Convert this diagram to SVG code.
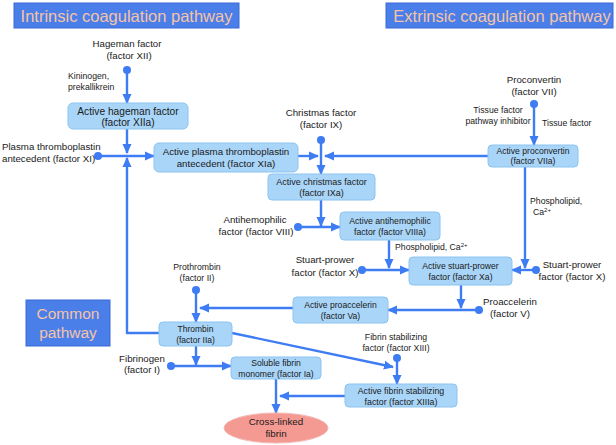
<svg xmlns="http://www.w3.org/2000/svg" width="616" height="445" viewBox="0 0 616 445">
<style>
text{font-family:"Liberation Sans",Arial,sans-serif;fill:#1a1a1a}
.title rect{fill:#4a7ee9;stroke:#3a6ad6;stroke-width:1}
.title text{fill:#f5c4a6;text-anchor:middle}
.node rect{fill:#a9d5f8;stroke:#8cc4f1;stroke-width:1}
.node text{text-anchor:middle}
.lbl{font-size:9.7px}
.sm{font-size:8.7px}
.mid{text-anchor:middle}
.c{fill:none;stroke:#3e7cf4;stroke-width:2.4}
.dot{fill:#3e7cf4}
</style>
<defs>
<marker id="ah" markerUnits="userSpaceOnUse" markerWidth="10" markerHeight="10" viewBox="0 0 10 10" refX="9" refY="5" orient="auto">
<path d="M0,0.5 L10,5 L0,9.5 Z" fill="#3e7cf4"/>
</marker>
</defs>
<rect width="616" height="445" fill="#ffffff"/>

<g id="title-intrinsic" class="title"><rect x="14" y="3" width="225" height="25"/><text x="126.5" y="22" font-size="16.5">Intrinsic coagulation pathway</text></g>
<g id="title-extrinsic" class="title"><rect x="386" y="3" width="227" height="25"/><text x="502" y="22" font-size="16.5">Extrinsic coagulation pathway</text></g>
<g id="title-common" class="title"><rect x="26" y="300" width="84" height="46"/><text x="68" y="319" font-size="15.5">Common</text><text x="68" y="338" font-size="15.5">pathway</text></g>

<g id="connectors">
<line class="c" x1="127" y1="70" x2="127" y2="103" marker-end="url(#ah)"/>
<line class="c" x1="127" y1="129" x2="127" y2="153" marker-end="url(#ah)"/>
<line class="c" x1="98" y1="156" x2="154" y2="156" marker-end="url(#ah)"/>
<polyline class="c" points="159,333 127,333 127,158" marker-end="url(#ah)"/>
<line class="c" x1="298" y1="156" x2="318" y2="156" marker-end="url(#ah)"/>
<line class="c" x1="321" y1="140" x2="321" y2="174" marker-end="url(#ah)"/>
<line class="c" x1="488" y1="156" x2="325" y2="156" marker-end="url(#ah)"/>
<line class="c" x1="534" y1="104" x2="534" y2="145" marker-end="url(#ah)"/>
<line class="c" x1="321" y1="200" x2="321" y2="226" marker-end="url(#ah)"/>
<line class="c" x1="298" y1="227" x2="340" y2="227" marker-end="url(#ah)"/>
<line class="c" x1="389" y1="240" x2="389" y2="268" marker-end="url(#ah)"/>
<line class="c" x1="362" y1="270" x2="409" y2="270" marker-end="url(#ah)"/>
<line class="c" x1="525" y1="167" x2="525" y2="268" marker-end="url(#ah)"/>
<line class="c" x1="536" y1="270" x2="512" y2="270" marker-end="url(#ah)"/>
<line class="c" x1="461" y1="285" x2="461" y2="308" marker-end="url(#ah)"/>
<line class="c" x1="479" y1="310" x2="388" y2="310" marker-end="url(#ah)"/>
<line class="c" x1="293" y1="308" x2="200" y2="308" marker-end="url(#ah)"/>
<line class="c" x1="196" y1="290" x2="196" y2="322" marker-end="url(#ah)"/>
<line class="c" x1="196" y1="346" x2="196" y2="365" marker-end="url(#ah)"/>
<line class="c" x1="171" y1="366" x2="231" y2="366" marker-end="url(#ah)"/>
<line class="c" x1="232" y1="333" x2="393" y2="367" marker-end="url(#ah)"/>
<line class="c" x1="397" y1="358" x2="397" y2="384" marker-end="url(#ah)"/>
<line class="c" x1="345" y1="396" x2="280" y2="396" marker-end="url(#ah)"/>
<line class="c" x1="276" y1="379" x2="276" y2="413" marker-end="url(#ah)"/>
<circle class="dot" cx="127" cy="70" r="4"/>
<circle class="dot" cx="98" cy="156" r="4"/>
<circle class="dot" cx="321" cy="140" r="4"/>
<circle class="dot" cx="534" cy="104" r="4"/>
<circle class="dot" cx="298" cy="227" r="4"/>
<circle class="dot" cx="362" cy="270" r="4"/>
<circle class="dot" cx="536" cy="270" r="4"/>
<circle class="dot" cx="479" cy="310" r="4"/>
<circle class="dot" cx="196" cy="290" r="4"/>
<circle class="dot" cx="171" cy="366" r="4"/>
<circle class="dot" cx="397" cy="358" r="4"/>
</g>

<g id="n-xiia" class="node"><rect x="68" y="103" width="120" height="26" rx="5"/><text x="128" y="115" font-size="10.2">Active hageman factor</text><text x="128" y="126" font-size="10.2">(factor XIIa)</text></g>
<g id="n-xia" class="node"><rect x="154" y="143" width="144" height="29" rx="5"/><text x="226" y="155" font-size="9.7">Active plasma thromboplastin</text><text x="226" y="167" font-size="9.7">antecedent (factor XIa)</text></g>
<g id="n-ixa" class="node"><rect x="268" y="174" width="107" height="26" rx="4"/><text x="321.5" y="185" font-size="9">Active christmas factor</text><text x="321.5" y="196" font-size="9">(factor IXa)</text></g>
<g id="n-viia" class="node"><rect x="488" y="145" width="90" height="22" rx="4"/><text x="533" y="154" font-size="8.6">Active proconvertin</text><text x="533" y="164" font-size="8.6">(factor VIIa)</text></g>
<g id="n-viiia" class="node"><rect x="340" y="212" width="100" height="28" rx="4"/><text x="390" y="224" font-size="8.7">Active antihemophilic</text><text x="390" y="235" font-size="8.7">factor (factor VIIIa)</text></g>
<g id="n-xa" class="node"><rect x="409" y="257" width="103" height="28" rx="4"/><text x="460.5" y="269" font-size="8.6">Active stuart-prower</text><text x="460.5" y="280" font-size="8.6">factor (factor Xa)</text></g>
<g id="n-va" class="node"><rect x="293" y="297" width="95" height="26" rx="4"/><text x="340.5" y="308" font-size="8.6">Active proaccelerin</text><text x="340.5" y="319" font-size="8.6">(factor Va)</text></g>
<g id="n-iia" class="node"><rect x="159" y="322" width="73" height="24" rx="4"/><text x="195.5" y="332" font-size="8.5">Thrombin</text><text x="195.5" y="343" font-size="8.5">(factor IIa)</text></g>
<g id="n-ia" class="node"><rect x="231" y="357" width="90" height="22" rx="4"/><text x="276" y="366" font-size="8.6">Soluble fibrin</text><text x="276" y="377" font-size="8.6">monomer (factor Ia)</text></g>
<g id="n-xiiia" class="node"><rect x="345" y="384" width="112" height="23" rx="4"/><text x="401" y="394" font-size="8.8">Active fibrin stabilizing</text><text x="401" y="405" font-size="8.8">factor (factor XIIIa)</text></g>
<g id="n-fibrin"><ellipse cx="276" cy="428" rx="52" ry="15" fill="#f59a92" stroke="#f2b7b2" stroke-width="1"/><text x="276" y="425" font-size="9.8" text-anchor="middle">Cross-linked</text><text x="276" y="437" font-size="9.8" text-anchor="middle">fibrin</text></g>

<g id="labels">
<text class="lbl mid" x="127" y="47">Hageman factor</text><text class="lbl mid" x="129" y="59">(factor XII)</text>
<text class="sm" x="68" y="79">Kininogen,</text><text class="sm" x="68" y="90">prekallikrein</text>
<text class="lbl" x="2" y="150">Plasma thromboplastin</text><text class="lbl" x="2" y="162">antecedent (factor XI)</text>
<text class="lbl mid" x="321" y="116">Christmas factor</text><text class="lbl mid" x="321" y="128">(factor IX)</text>
<text class="lbl mid" x="534" y="83">Proconvertin</text><text class="lbl mid" x="534" y="95">(factor VII)</text>
<text class="sm mid" x="498" y="113">Tissue factor</text><text class="sm mid" x="498" y="124">pathway inhibitor</text>
<text class="sm" x="542" y="126">Tissue factor</text>
<text class="sm" x="530" y="204">Phospholipid,</text><text class="sm" x="533" y="215">Ca<tspan font-size="6" dy="-3.5">2+</tspan></text>
<text class="lbl mid" x="255" y="223">Antihemophilic</text><text class="lbl mid" x="256" y="235">factor (factor VIII)</text>
<text class="sm" x="395" y="250">Phospholipid, Ca<tspan font-size="6" dy="-3.5">2+</tspan></text>
<text class="lbl mid" x="325" y="263">Stuart-prower</text><text class="lbl mid" x="325" y="276">factor (factor X)</text>
<text class="lbl mid" x="572" y="268">Stuart-prower</text><text class="lbl mid" x="572" y="280">factor (factor X)</text>
<text class="lbl mid" x="510" y="305">Proaccelerin</text><text class="lbl mid" x="510" y="317">(factor V)</text>
<text class="sm mid" x="197" y="270">Prothrombin</text><text class="sm mid" x="197" y="281">(factor II)</text>
<text class="lbl mid" x="142" y="362">Fibrinogen</text><text class="lbl mid" x="142" y="373">(factor I)</text>
<text class="sm mid" x="396" y="340">Fibrin stabilizing</text><text class="sm mid" x="396" y="351">factor (factor XIII)</text>
</g>
</svg>
